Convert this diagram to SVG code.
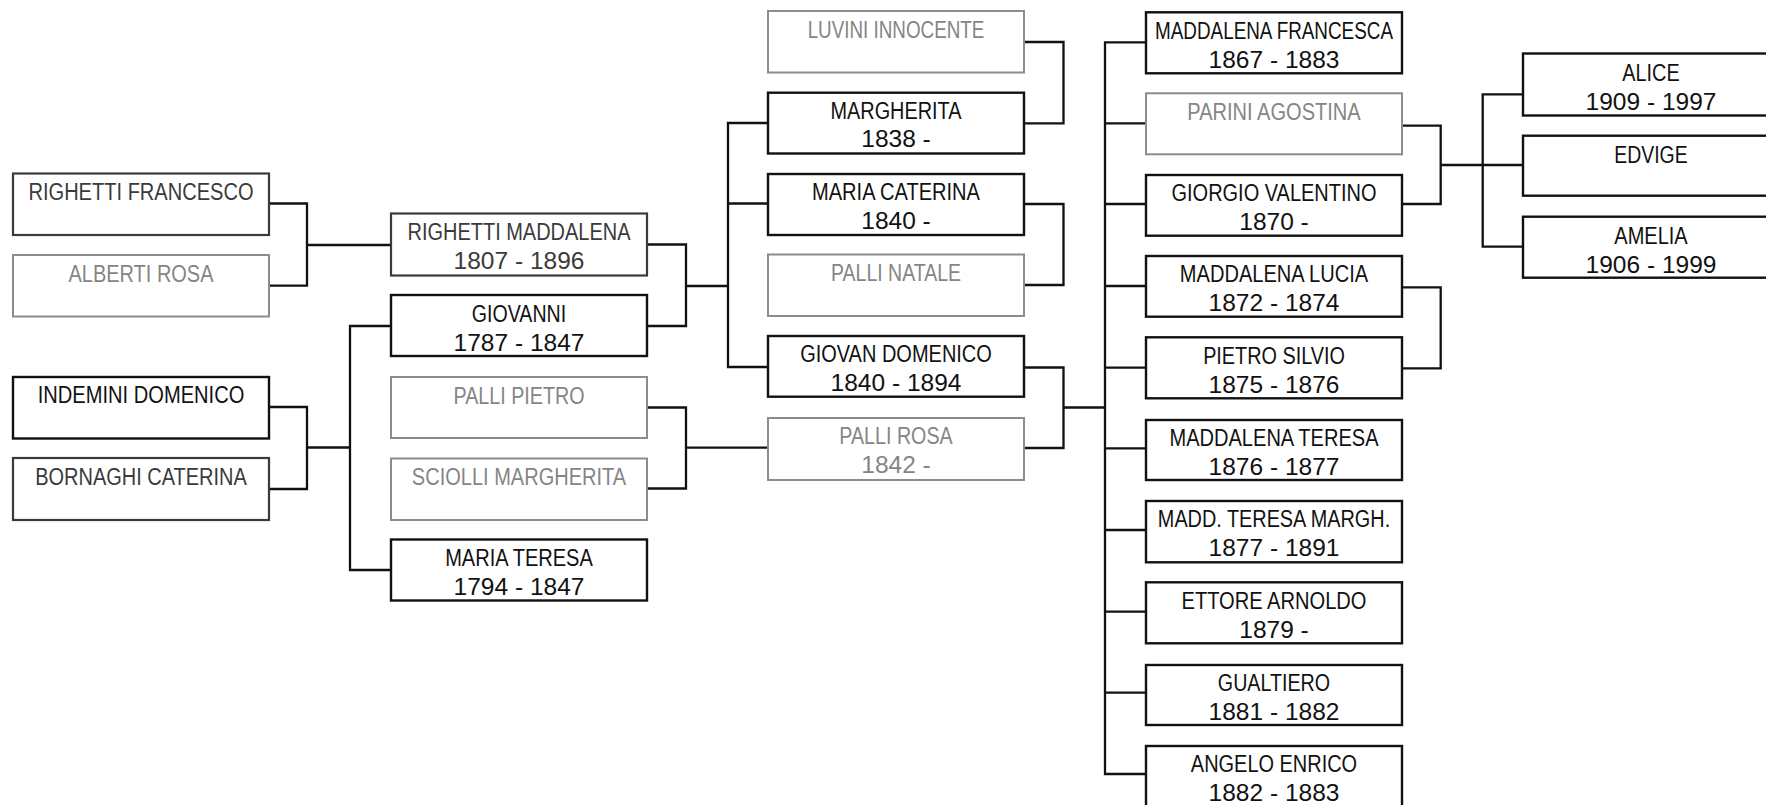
<svg xmlns="http://www.w3.org/2000/svg" width="1766" height="805" viewBox="0 0 1766 805">
<style>
.bx{fill:#fff;stroke:#111;stroke-width:2.4}
.dk .bx{stroke:#3a3a3a;stroke-width:2.2}
.lt .bx{stroke:#8c8c8c;stroke-width:2}
text{font-family:"Liberation Sans",Arial,sans-serif;text-anchor:middle;fill:#111}
.dk text{fill:#3a3a3a}
.lt text{fill:#858585}
.n{font-size:23px}
.d{font-size:24.5px}
#connectors path{fill:none;stroke:#111;stroke-width:2.3}
</style>
<rect width="1766" height="805" fill="#fff"/>
<g id="connectors">
<path d="M269,203.5 H307 V285.7 H269 M307,245 H391"/>
<path d="M269,407 H307 V489 H269 M307,447.5 H350 M391,326 H350 V570 H391"/>
<path d="M647,244.5 H686 V326 H647 M686,286 H728"/>
<path d="M647,407.5 H686 V488.5 H647 M686,447.7 H768"/>
<path d="M768,123 H728 V367 H768 M728,203.5 H768"/>
<path d="M1024,42 H1063.5 V123.3 H1024"/>
<path d="M1024,204 H1063.5 V285 H1024"/>
<path d="M1024,367.5 H1063.5 V448 H1024 M1063.5,407.5 H1105"/>
<path d="M1146,42.3 H1105 V774 H1146 M1105,123.3 H1146 M1105,204 H1146 M1105,286 H1146 M1105,367.7 H1146 M1105,448.3 H1146 M1105,530 H1146 M1105,611.7 H1146 M1105,692.7 H1146"/>
<path d="M1402,125.7 H1440.7 V204 H1402 M1440.7,165 H1523"/>
<path d="M1402,287.3 H1440.7 V368.3 H1402"/>
<path d="M1523,94.3 H1482.7 V246.7 H1523"/>
</g>
<g id="righetti-francesco" class="dk"><rect class="bx" x="13" y="173.5" width="256" height="61.5"/><text class="n" x="141" y="200" textLength="225" lengthAdjust="spacingAndGlyphs">RIGHETTI FRANCESCO</text></g>
<g id="alberti-rosa" class="lt"><rect class="bx" x="13" y="255" width="256" height="61.5"/><text class="n" x="141" y="281.5" textLength="145" lengthAdjust="spacingAndGlyphs">ALBERTI ROSA</text></g>
<g id="indemini-domenico"><rect class="bx" x="13" y="377" width="256" height="61.5"/><text class="n" x="141" y="403" textLength="206.7" lengthAdjust="spacingAndGlyphs">INDEMINI DOMENICO</text></g>
<g id="bornaghi-caterina" class="dk"><rect class="bx" x="13" y="458" width="256" height="62"/><text class="n" x="141" y="484.5" textLength="211.7" lengthAdjust="spacingAndGlyphs">BORNAGHI CATERINA</text></g>

<g id="righetti-maddalena" class="dk"><rect class="bx" x="391" y="213.5" width="256" height="62"/><text class="n" x="519" y="240" textLength="223" lengthAdjust="spacingAndGlyphs">RIGHETTI MADDALENA</text><text class="d" x="519" y="269">1807 - 1896</text></g>
<g id="giovanni"><rect class="bx" x="391" y="295" width="256" height="61"/><text class="n" x="519" y="321.5" textLength="94.3" lengthAdjust="spacingAndGlyphs">GIOVANNI</text><text class="d" x="519" y="350.5">1787 - 1847</text></g>
<g id="palli-pietro" class="lt"><rect class="bx" x="391" y="377" width="256" height="61"/><text class="n" x="519" y="403.5" textLength="131" lengthAdjust="spacingAndGlyphs">PALLI PIETRO</text></g>
<g id="sciolli-margherita" class="lt"><rect class="bx" x="391" y="458.5" width="256" height="61.5"/><text class="n" x="519" y="485" textLength="214.3" lengthAdjust="spacingAndGlyphs">SCIOLLI MARGHERITA</text></g>
<g id="maria-teresa"><rect class="bx" x="391" y="539.5" width="256" height="61"/><text class="n" x="519" y="566" textLength="147.7" lengthAdjust="spacingAndGlyphs">MARIA TERESA</text><text class="d" x="519" y="595">1794 - 1847</text></g>

<g id="luvini-innocente" class="lt"><rect class="bx" x="768" y="11" width="256" height="61.5"/><text class="n" x="896" y="37.5" textLength="176.7" lengthAdjust="spacingAndGlyphs">LUVINI INNOCENTE</text></g>
<g id="margherita"><rect class="bx" x="768" y="92.7" width="256" height="60.8"/><text class="n" x="896" y="118.5" textLength="131" lengthAdjust="spacingAndGlyphs">MARGHERITA</text><text class="d" x="896" y="147">1838 -</text></g>
<g id="maria-caterina"><rect class="bx" x="768" y="174" width="256" height="61"/><text class="n" x="896" y="200" textLength="168" lengthAdjust="spacingAndGlyphs">MARIA CATERINA</text><text class="d" x="896" y="229">1840 -</text></g>
<g id="palli-natale" class="lt"><rect class="bx" x="768" y="254.5" width="256" height="61.5"/><text class="n" x="896" y="281" textLength="130" lengthAdjust="spacingAndGlyphs">PALLI NATALE</text></g>
<g id="giovan-domenico"><rect class="bx" x="768" y="336" width="256" height="60.7"/><text class="n" x="896" y="362" textLength="191.7" lengthAdjust="spacingAndGlyphs">GIOVAN DOMENICO</text><text class="d" x="896" y="391">1840 - 1894</text></g>
<g id="palli-rosa" class="lt"><rect class="bx" x="768" y="418" width="256" height="62"/><text class="n" x="896" y="444" textLength="113.3" lengthAdjust="spacingAndGlyphs">PALLI ROSA</text><text class="d" x="896" y="473">1842 -</text></g>

<g id="maddalena-francesca"><rect class="bx" x="1146" y="12.3" width="256" height="61"/><text class="n" x="1274" y="38.5" textLength="238" lengthAdjust="spacingAndGlyphs">MADDALENA FRANCESCA</text><text class="d" x="1274" y="67.5">1867 - 1883</text></g>
<g id="parini-agostina" class="lt"><rect class="bx" x="1146" y="93.3" width="256" height="61"/><text class="n" x="1274" y="119.5" textLength="173.3" lengthAdjust="spacingAndGlyphs">PARINI AGOSTINA</text></g>
<g id="giorgio-valentino"><rect class="bx" x="1146" y="175" width="256" height="60.7"/><text class="n" x="1274" y="201" textLength="205" lengthAdjust="spacingAndGlyphs">GIORGIO VALENTINO</text><text class="d" x="1274" y="230">1870 -</text></g>
<g id="maddalena-lucia"><rect class="bx" x="1146" y="256" width="256" height="60.7"/><text class="n" x="1274" y="282" textLength="188.3" lengthAdjust="spacingAndGlyphs">MADDALENA LUCIA</text><text class="d" x="1274" y="311">1872 - 1874</text></g>
<g id="pietro-silvio"><rect class="bx" x="1146" y="337.3" width="256" height="61"/><text class="n" x="1274" y="363.5" textLength="141.7" lengthAdjust="spacingAndGlyphs">PIETRO SILVIO</text><text class="d" x="1274" y="392.5">1875 - 1876</text></g>
<g id="maddalena-teresa"><rect class="bx" x="1146" y="420" width="256" height="60"/><text class="n" x="1274" y="445.5" textLength="209" lengthAdjust="spacingAndGlyphs">MADDALENA TERESA</text><text class="d" x="1274" y="474.5">1876 - 1877</text></g>
<g id="madd-teresa-margh"><rect class="bx" x="1146" y="501" width="256" height="61.3"/><text class="n" x="1274" y="527" textLength="232.3" lengthAdjust="spacingAndGlyphs">MADD. TERESA MARGH.</text><text class="d" x="1274" y="556">1877 - 1891</text></g>
<g id="ettore-arnoldo"><rect class="bx" x="1146" y="582.3" width="256" height="61"/><text class="n" x="1274" y="608.5" textLength="185" lengthAdjust="spacingAndGlyphs">ETTORE ARNOLDO</text><text class="d" x="1274" y="637.5">1879 -</text></g>
<g id="gualtiero"><rect class="bx" x="1146" y="665" width="256" height="60"/><text class="n" x="1274" y="690.5" textLength="112.3" lengthAdjust="spacingAndGlyphs">GUALTIERO</text><text class="d" x="1274" y="719.5">1881 - 1882</text></g>
<g id="angelo-enrico"><rect class="bx" x="1146" y="746" width="256" height="62"/><text class="n" x="1274" y="772" textLength="166.3" lengthAdjust="spacingAndGlyphs">ANGELO ENRICO</text><text class="d" x="1274" y="801">1882 - 1883</text></g>

<g id="alice"><rect class="bx" x="1523" y="53.5" width="260" height="62"/><text class="n" x="1651" y="81" textLength="57.3" lengthAdjust="spacingAndGlyphs">ALICE</text><text class="d" x="1651" y="110">1909 - 1997</text></g>
<g id="edvige"><rect class="bx" x="1523" y="135.7" width="260" height="60"/><text class="n" x="1651" y="162.5" textLength="73.3" lengthAdjust="spacingAndGlyphs">EDVIGE</text></g>
<g id="amelia"><rect class="bx" x="1523" y="216.7" width="260" height="61"/><text class="n" x="1651" y="244" textLength="73.3" lengthAdjust="spacingAndGlyphs">AMELIA</text><text class="d" x="1651" y="273">1906 - 1999</text></g>
</svg>
